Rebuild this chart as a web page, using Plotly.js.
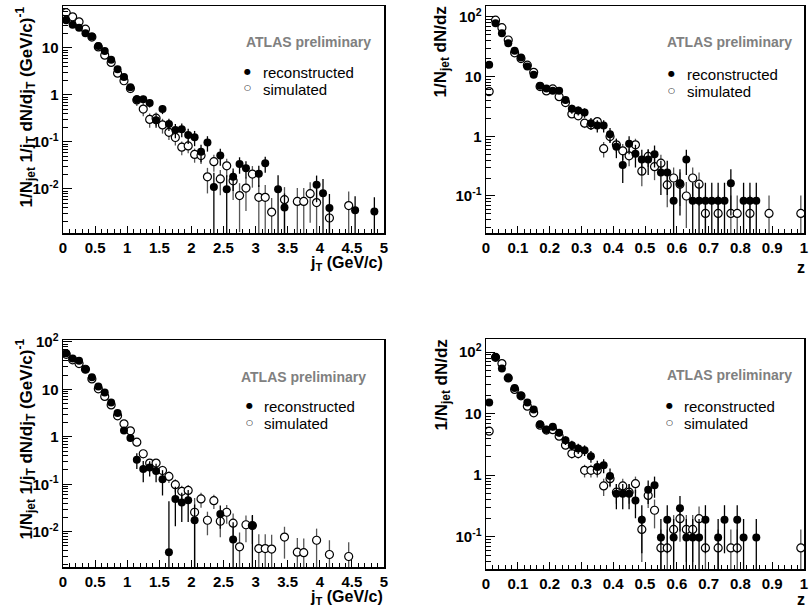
<!DOCTYPE html>
<html>
<head>
<meta charset="utf-8">
<script src="https://cdn.plot.ly/plotly-3.0.1.min.js"></script>
<style>html,body{margin:0;padding:0;background:#fff;}#chart{width:809px;height:612px;}</style>
</head>
<body>
<div id="chart"></div>
<script>
// ---------- DATA ----------
// Panel 1 (top-left): jT distribution
const p1RecoX = [0.05,0.15,0.25,0.35,0.45,0.55,0.65,0.75,0.85,0.95,1.05,1.15,1.25,1.35,1.45,1.55,1.65,1.75,1.85,1.95,2.05,2.15,2.25,2.35,2.45,2.55,2.65,2.75,2.85,3.05,3.15,3.35,3.45,3.95,4.05,4.15,4.55,4.85];
const p1RecoY = [39,31,27,20.5,17.4,11,8.6,5.6,3.5,2.4,1.46,0.81,0.81,0.67,0.29,0.50,0.24,0.18,0.185,0.14,0.126,0.062,0.097,0.011,0.051,0.0098,0.018,0.034,0.0276,0.021,0.035,0.0098,0.004,0.0122,0.0081,0.0039,0.0035,0.0033];
const p1RecoE = [1.5,1.3,1.2,1.0,0.9,0.7,0.6,0.5,0.35,0.3,0.2,0.15,0.15,0.13,0.09,0.11,0.07,0.06,0.06,0.05,0.045,0.025,0.035,0.011,0.02,0.0098,0.009,0.013,0.011,0.01,0.013,0.0098,0.004,0.007,0.0081,0.0039,0.0035,0.0033];
const p1SimX = [0.05,0.15,0.25,0.35,0.45,0.55,0.65,0.75,0.85,0.95,1.05,1.15,1.25,1.35,1.45,1.55,1.65,1.75,1.85,1.95,2.05,2.15,2.25,2.35,2.45,2.55,2.65,2.75,2.85,2.95,3.05,3.15,3.25,3.45,3.65,3.75,3.85,3.95,4.15,4.45];
const p1SimY = [56,46,36,25,17,10.5,7,4.9,2.9,2.0,1.37,0.78,0.50,0.30,0.32,0.23,0.16,0.124,0.077,0.082,0.054,0.051,0.018,0.038,0.0163,0.031,0.0148,0.0072,0.0104,0.0206,0.0066,0.0066,0.0032,0.0059,0.0054,0.0054,0.0079,0.0051,0.0024,0.0044];
const p1SimE = [1.8,1.6,1.4,1.2,1.0,0.8,0.65,0.55,0.4,0.35,0.28,0.2,0.15,0.1,0.1,0.08,0.05,0.04,0.025,0.025,0.018,0.017,0.01,0.015,0.009,0.013,0.009,0.006,0.007,0.01,0.0055,0.0055,0.0032,0.005,0.005,0.005,0.006,0.005,0.0024,0.0044];

// Panel 2 (top-right): z distribution
const p2RecoX = [0.01,0.03,0.05,0.07,0.09,0.11,0.13,0.15,0.17,0.19,0.21,0.23,0.25,0.27,0.29,0.31,0.33,0.35,0.37,0.39,0.41,0.43,0.45,0.47,0.49,0.51,0.53,0.55,0.57,0.59,0.61,0.63,0.65,0.67,0.69,0.71,0.73,0.75,0.77,0.81,0.83,0.85];
const p2RecoY = [15.7,78,53,36,27,20.8,14.7,10.7,7.0,6.3,5.8,5.8,4.07,2.88,2.69,2.49,1.66,1.51,1.51,1.08,0.67,0.33,0.75,0.51,0.41,0.41,0.50,0.247,0.247,0.083,0.164,0.41,0.083,0.083,0.083,0.083,0.083,0.083,0.164,0.083,0.083,0.083];
const p2RecoE = [1.14,2.54,2.1,1.73,1.5,1.31,1.1,0.94,0.76,0.72,0.69,0.69,0.58,0.49,0.47,0.45,0.37,0.35,0.35,0.3,0.24,0.165,0.25,0.21,0.185,0.185,0.2,0.143,0.143,0.083,0.117,0.185,0.083,0.083,0.083,0.083,0.083,0.083,0.117,0.083,0.083,0.083];
const p2SimX = [0.01,0.03,0.05,0.07,0.09,0.11,0.13,0.15,0.17,0.19,0.21,0.23,0.25,0.27,0.29,0.31,0.33,0.35,0.37,0.39,0.41,0.43,0.45,0.47,0.49,0.51,0.53,0.55,0.57,0.59,0.61,0.63,0.65,0.67,0.69,0.73,0.77,0.79,0.83,0.89,0.99];
const p2SimY = [5.6,88,66,41,25,20,15.5,11.8,6.8,5.75,6.2,4.6,3.67,2.37,2.2,1.66,1.55,1.76,0.62,0.99,0.72,0.57,0.47,0.72,0.26,0.46,0.31,0.355,0.153,0.20,0.158,0.10,0.20,0.158,0.051,0.051,0.051,0.051,0.051,0.051,0.051];
const p2SimE = [0.53,2.1,1.83,1.45,1.13,1.0,0.89,0.78,0.59,0.54,0.56,0.48,0.43,0.35,0.33,0.29,0.28,0.3,0.18,0.22,0.19,0.17,0.155,0.19,0.115,0.153,0.126,0.135,0.088,0.1,0.09,0.071,0.1,0.09,0.051,0.051,0.051,0.051,0.051,0.051,0.051];

// Panel 3 (bottom-left): jT distribution
const p3RecoX = [0.05,0.15,0.25,0.35,0.45,0.55,0.65,0.75,0.85,0.95,1.05,1.15,1.25,1.35,1.45,1.55,1.65,1.75,1.85,1.95,2.05,2.45,2.65,2.95];
const p3RecoY = [58,45,40,26.6,18,11.5,8.6,5.3,3.16,1.36,0.94,0.33,0.21,0.226,0.19,0.128,0.0037,0.049,0.041,0.046,0.0174,0.0235,0.0068,0.0135];
const p3RecoEUp = [1.5,1.3,1.2,1.0,0.8,0.6,0.5,0.4,0.3,0.2,0.16,0.12,0.1,0.08,0.08,0.07,0.04,0.04,0.025,0.03,0.02,0.012,0.009,0.009];
const p3RecoEDn = [1.5,1.3,1.2,1.0,0.8,0.6,0.5,0.4,0.3,0.2,0.16,0.12,0.1,0.08,0.08,0.07,0.0037,0.036,0.025,0.03,0.0174,0.012,0.0068,0.0135];
const p3SimX = [0.05,0.15,0.25,0.35,0.45,0.55,0.65,0.75,0.85,0.95,1.05,1.15,1.25,1.35,1.45,1.55,1.65,1.75,1.85,1.95,2.05,2.15,2.25,2.35,2.45,2.55,2.65,2.75,2.85,2.95,3.05,3.15,3.25,3.45,3.65,3.75,3.95,4.15,4.45];
const p3SimY = [55,42,35,26.6,16.6,10.3,7.1,4.7,2.77,1.88,1.34,0.77,0.44,0.28,0.28,0.195,0.146,0.098,0.071,0.074,0.0257,0.049,0.0174,0.045,0.0166,0.0257,0.0151,0.0048,0.014,0.0135,0.0044,0.0044,0.0043,0.0077,0.0037,0.0036,0.0066,0.0033,0.0030];
const p3SimE = [1.5,1.3,1.2,1.0,0.8,0.6,0.5,0.4,0.3,0.25,0.2,0.14,0.09,0.06,0.06,0.05,0.04,0.03,0.022,0.022,0.0257,0.017,0.009,0.015,0.009,0.011,0.009,0.0048,0.008,0.008,0.0044,0.0044,0.0043,0.005,0.0037,0.0036,0.005,0.0033,0.003];

// Panel 4 (bottom-right): z distribution
const p4RecoX = [0.01,0.03,0.05,0.07,0.09,0.11,0.13,0.15,0.17,0.19,0.21,0.23,0.25,0.27,0.29,0.31,0.33,0.35,0.37,0.39,0.41,0.43,0.45,0.47,0.49,0.51,0.53,0.55,0.57,0.59,0.61,0.63,0.65,0.67,0.69,0.73,0.75,0.79,0.81,0.85];
const p4RecoY = [15.2,82,54,38,26,19.5,15.2,11.7,6.7,5.5,6.1,4.9,3.7,3.08,2.72,2.55,2.04,1.36,1.45,0.975,0.50,0.50,0.50,0.39,0.19,0.58,0.69,0.097,0.19,0.097,0.29,0.097,0.097,0.097,0.19,0.097,0.19,0.19,0.097,0.097];
const p4RecoE = [1.21,2.82,2.29,1.92,1.59,1.38,1.21,1.07,0.81,0.73,0.77,0.69,0.6,0.55,0.51,0.5,0.44,0.36,0.37,0.31,0.22,0.22,0.22,0.19,0.136,0.24,0.26,0.097,0.136,0.097,0.168,0.097,0.097,0.097,0.136,0.097,0.136,0.136,0.097,0.097];
const p4SimX = [0.01,0.03,0.05,0.07,0.09,0.11,0.13,0.15,0.17,0.19,0.21,0.23,0.25,0.27,0.29,0.31,0.33,0.35,0.37,0.39,0.41,0.43,0.45,0.47,0.49,0.51,0.53,0.55,0.57,0.59,0.61,0.63,0.65,0.67,0.69,0.73,0.77,0.79,0.99];
const p4SimY = [5.2,82,65,38,24.7,19.5,13.2,10.3,6.5,5.4,5.5,4.3,3.08,2.25,2.25,1.2,1.2,1.2,0.67,0.88,0.53,0.67,0.53,0.73,0.132,0.47,0.27,0.066,0.066,0.132,0.197,0.132,0.132,0.197,0.066,0.066,0.066,0.066,0.066];
const p4SimE = [0.59,2.33,2.07,1.58,1.28,1.13,0.93,0.82,0.65,0.6,0.6,0.53,0.45,0.385,0.385,0.28,0.28,0.28,0.21,0.24,0.187,0.21,0.187,0.22,0.093,0.176,0.133,0.066,0.066,0.093,0.114,0.093,0.093,0.114,0.066,0.066,0.066,0.066,0.066];

// tick labels
const logTickVals = [0.01, 0.1, 1, 10, 100];
const logTickText = ['10<sup>-2</sup>', '10<sup>-1</sup>', '1', '10', '10<sup>2</sup>'];
const legendLabels = ['reconstructed', 'simulated'];
const atlasLabel = 'ATLAS preliminary';

// ---------- STYLE ----------
const FONT = '"Liberation Sans", Arial, Helvetica, sans-serif';
const W = 809, H = 612;
function px(x) { return x / W; }
function py(y) { return 1 - y / H; }

const minorLog = [];
for (let d = -4; d <= 2; d++) for (let k = 2; k <= 9; k++) minorLog.push(k * Math.pow(10, d));

function trace(x, y, eUp, eDn, filled, n) {
  const t = {
    type: 'scatter', mode: 'markers', x: x, y: y,
    xaxis: 'x' + (n === 1 ? '' : n), yaxis: 'y' + (n === 1 ? '' : n),
    name: filled ? legendLabels[0] : legendLabels[1],
    error_y: {type: 'data', symmetric: eDn ? false : true, array: eUp, visible: true,
              color: filled ? '#000000' : '#555555', thickness: 1.3, width: 0},
    marker: filled ? {symbol: 'circle', size: 8, color: '#000000', line: {width: 0}}
                   : {symbol: 'circle', size: 8, color: '#ffffff', line: {color: '#000000', width: 1.2}},
    showlegend: false, hoverinfo: 'x+y'
  };
  if (eDn) t.error_y.arrayminus = eDn;
  return t;
}

const data = [
  trace(p1SimX, p1SimY, p1SimE, null, false, 1),
  trace(p1RecoX, p1RecoY, p1RecoE, null, true, 1),
  trace(p2SimX, p2SimY, p2SimE, null, false, 2),
  trace(p2RecoX, p2RecoY, p2RecoE, null, true, 2),
  trace(p3SimX, p3SimY, p3SimE, null, false, 3),
  trace(p3RecoX, p3RecoY, p3RecoEUp, p3RecoEDn, true, 3),
  trace(p4SimX, p4SimY, p4SimE, null, false, 4),
  trace(p4RecoX, p4RecoY, p4RecoE, null, true, 4)
];

const tickFont = {family: FONT, size: 15, color: '#000', weight: 'bold'};
function xAx(domain, range, dtick, minorDtick, anchor) {
  return {domain: domain, range: range, anchor: anchor, dtick: dtick, tick0: 0,
    showgrid: false, zeroline: false, showline: true, linecolor: '#000', linewidth: 1.5, mirror: true,
    ticks: 'inside', ticklen: 7, tickwidth: 1, tickcolor: '#000', tickfont: tickFont,
    minor: {dtick: minorDtick, tick0: 0, ticks: 'inside', ticklen: 4, tickwidth: 1, tickcolor: '#000', showgrid: false}};
}
function yAx(domain, range, anchor) {
  return {type: 'log', domain: domain, range: range, anchor: anchor,
    tickmode: 'array', tickvals: logTickVals, ticktext: logTickText,
    showgrid: false, zeroline: false, showline: true, linecolor: '#000', linewidth: 1.5, mirror: true,
    ticks: 'inside', ticklen: 9, tickwidth: 1, tickcolor: '#000', tickfont: tickFont,
    minor: {tickmode: 'array', tickvals: minorLog, ticks: 'inside', ticklen: 5, tickwidth: 1, tickcolor: '#000', showgrid: false}};
}

const dxL = [px(63), px(384)], dxR = [px(486), px(804)];
const dyT = [py(233), py(6)], dyB1 = [py(567), py(340)], dyB2 = [py(569), py(339)];

const annotations = [];
function ann(text, x, y, opts) {
  annotations.push(Object.assign({text: text, x: x, y: y, xref: 'paper', yref: 'paper', showarrow: false,
    font: {family: FONT, size: 16, color: '#000'}}, opts || {}));
}
const yTitleJ = '<b>1/N<sub>jet</sub> 1/j<sub>T</sub> dN/dj<sub>T</sub> (GeV/c)<sup>-1</sup></b>';
const yTitleZ = '<b>1/N<sub>jet</sub> dN/dz</b>';
const xTitleJ = '<b>j<sub>T</sub> (GeV/c)</b>';
const xTitleZ = '<b>z</b>';
const titleFont = {family: FONT, size: 17, color: '#000'};
// axis titles
ann(yTitleJ, px(26), py(5), {textangle: -90, xanchor: 'center', yanchor: 'top', font: titleFont});
ann(yTitleZ, px(442), py(5), {textangle: -90, xanchor: 'center', yanchor: 'top', font: titleFont});
ann(yTitleJ, px(26), py(337), {textangle: -90, xanchor: 'center', yanchor: 'top', font: titleFont});
ann(yTitleZ, px(442), py(338), {textangle: -90, xanchor: 'center', yanchor: 'top', font: titleFont});
ann(xTitleJ, px(385), py(252), {xanchor: 'right', yanchor: 'top'});
ann(xTitleZ, px(807), py(267), {xanchor: 'right', yanchor: 'middle'});
ann(xTitleJ, px(385), py(586), {xanchor: 'right', yanchor: 'top'});
ann(xTitleZ, px(807), py(599), {xanchor: 'right', yanchor: 'middle'});
// ATLAS labels
const atlasFont = {family: FONT, size: 14, color: '#808080'};
ann('<b>' + atlasLabel + '</b>', px(373), py(42), {xanchor: 'right', yanchor: 'middle', font: atlasFont});
ann('<b>' + atlasLabel + '</b>', px(794), py(42), {xanchor: 'right', yanchor: 'middle', font: atlasFont});
ann('<b>' + atlasLabel + '</b>', px(368), py(377), {xanchor: 'right', yanchor: 'middle', font: atlasFont});
ann('<b>' + atlasLabel + '</b>', px(794), py(375), {xanchor: 'right', yanchor: 'middle', font: atlasFont});
// legends
const legFont = {family: FONT, size: 15, color: '#000'};
const symFont = {family: 'DejaVu Sans', size: 8, color: '#000'};
function legend(mx, tx, y1, y2) {
  ann('●', px(mx), py(y1 - 1), {xanchor: 'center', yanchor: 'middle', font: symFont});
  ann('○', px(mx), py(y2 - 1), {xanchor: 'center', yanchor: 'middle', font: symFont});
  ann(legendLabels[0], px(tx), py(y1), {xanchor: 'left', yanchor: 'middle', font: legFont});
  ann(legendLabels[1], px(tx), py(y2), {xanchor: 'left', yanchor: 'middle', font: legFont});
}
legend(248, 261, 72, 89);
legend(671, 685, 74, 91);
legend(249, 262, 406, 423);
legend(669, 682, 406, 423);

const layout = {
  width: W, height: H, margin: {l: 0, r: 0, t: 0, b: 0},
  paper_bgcolor: '#fff', plot_bgcolor: '#fff', showlegend: false,
  font: {family: FONT, color: '#000'},
  xaxis: xAx(dxL, [0, 5], 0.5, 0.1, 'y'),
  yaxis: yAx(dyT, [Math.log10(0.00115), Math.log10(78)], 'x'),
  xaxis2: xAx(dxR, [0, 1], 0.1, 0.02, 'y2'),
  yaxis2: yAx(dyT, [Math.log10(0.024), Math.log10(152)], 'x2'),
  xaxis3: xAx(dxL, [0, 5], 0.5, 0.1, 'y3'),
  yaxis3: yAx(dyB1, [Math.log10(0.0018), Math.log10(110)], 'x3'),
  xaxis4: xAx(dxR, [0, 1], 0.1, 0.02, 'y4'),
  yaxis4: yAx(dyB2, [Math.log10(0.030), Math.log10(163)], 'x4'),
  annotations: annotations
};

Plotly.newPlot('chart', data, layout, {displayModeBar: false, staticPlot: true});
</script>
</body>
</html>
